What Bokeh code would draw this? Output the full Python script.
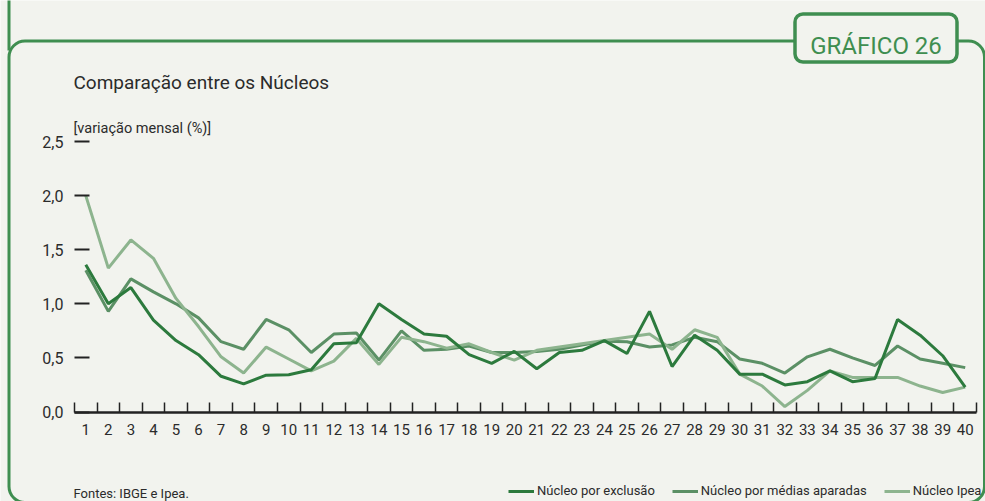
from bokeh.plotting import figure
from bokeh.models import Range1d, FixedTicker, Label, BoxAnnotation, Legend, LegendItem
from bokeh.embed import file_html
from bokeh.resources import INLINE

# ---------------- data ----------------
periodos = list(range(1, 41))
tick_labels = [str(i) for i in periodos]

exclusao = [1.36, 1.00, 1.15, 0.85, 0.66, 0.53, 0.33, 0.26, 0.34, 0.345,
            0.39, 0.63, 0.64, 1.00, 0.855, 0.72, 0.70, 0.53, 0.45, 0.56,
            0.40, 0.55, 0.57, 0.66, 0.54, 0.93, 0.42, 0.71, 0.57, 0.35,
            0.35, 0.25, 0.28, 0.38, 0.28, 0.31, 0.855, 0.71, 0.52, 0.23]

medias_aparadas = [1.31, 0.93, 1.23, 1.11, 1.00, 0.87, 0.65, 0.58, 0.855, 0.76,
                   0.55, 0.72, 0.73, 0.48, 0.75, 0.57, 0.58, 0.61, 0.55, 0.55,
                   0.56, 0.58, 0.62, 0.655, 0.65, 0.60, 0.62, 0.69, 0.65, 0.49,
                   0.45, 0.36, 0.51, 0.58, 0.50, 0.43, 0.61, 0.49, 0.45, 0.41]

ipea = [2.00, 1.33, 1.59, 1.42, 1.05, 0.79, 0.51, 0.36, 0.60, 0.49,
        0.38, 0.47, 0.68, 0.44, 0.69, 0.65, 0.59, 0.63, 0.55, 0.48,
        0.57, 0.60, 0.63, 0.66, 0.69, 0.72, 0.58, 0.76, 0.69, 0.35,
        0.24, 0.05, 0.20, 0.38, 0.32, 0.32, 0.32, 0.24, 0.18, 0.23]

y_ticks = [0.0, 0.5, 1.0, 1.5, 2.0, 2.5]
y_tick_labels = ["0,0", "0,5", "1,0", "1,5", "2,0", "2,5"]
series_names = ["Núcleo por exclusão", "Núcleo por médias aparadas", "Núcleo Ipea"]

title_text = "Comparação entre os Núcleos"
unit_text = "[variação mensal (%)]"
badge_text = "GRÁFICO 26"
source_text = "Fontes: IBGE e Ipea."

# ---------------- style / layout ----------------
W, H = 985, 501
BG = "#f2f3ee"
TXT = "#2b2b2b"
AX = "#222222"
GREEN = "#3f8e50"
C_EXC = "#2c7a3d"
C_MED = "#5b9065"
C_IPEA = "#8db48e"
FONT = "Roboto"

# the plot frame fills the whole canvas; the data area sits at
# x: 74..976 px (0.5..40.5), y: 411.5..141 px (0..2.5)
px_x0, px_x1 = 74.0, 976.0
px_y0, px_y1 = 411.5, 141.0
sx = (px_x1 - px_x0) / 40.0
sy = (px_y0 - px_y1) / 2.5
x_rng = Range1d(0.5 - px_x0 / sx, 40.5 + (W - px_x1) / sx)
y_rng = Range1d(0.0 - (H - px_y0) / sy, 2.5 + px_y1 / sy)

p = figure(width=W, height=H, x_range=x_rng, y_range=y_rng,
           output_backend="svg", toolbar_location=None, title=None,
           min_border=0, min_border_left=0, min_border_right=0,
           min_border_top=0, min_border_bottom=0,
           background_fill_color=BG, border_fill_color=BG,
           outline_line_color=None)

p.xgrid.visible = False
p.ygrid.visible = False

# x axis: labels at integers, small ticks at boundaries (minor ticks)
xa = p.xaxis[0]
xa.fixed_location = 0.0
xa.bounds = (0.5, 40.5)
xa.ticker = FixedTicker(ticks=periodos, minor_ticks=[i + 0.5 for i in range(0, 41)])
xa.major_label_overrides = {v: lbl for v, lbl in zip(periodos, tick_labels)}
xa.major_tick_line_color = None
xa.major_tick_in = 0
xa.major_tick_out = 0
xa.minor_tick_in = 10
xa.minor_tick_out = 0
xa.minor_tick_line_color = AX
xa.minor_tick_line_width = 1.5
xa.axis_line_color = AX
xa.axis_line_width = 2.5
xa.major_label_standoff = 12
xa.major_label_text_font = FONT
xa.major_label_text_font_size = "15px"
xa.major_label_text_color = TXT

ya = p.yaxis[0]
ya.fixed_location = 0.5
ya.bounds = (0.0, 2.5)
ya.ticker = FixedTicker(ticks=y_ticks)
ya.major_label_overrides = {v: lbl for v, lbl in zip(y_ticks, y_tick_labels)}
ya.axis_line_color = None
ya.major_tick_in = 15
ya.major_tick_out = 0
ya.major_tick_line_color = AX
ya.major_tick_line_width = 2
ya.minor_tick_line_color = None
ya.major_label_standoff = 11
ya.major_label_text_font = FONT
ya.major_label_text_font_size = "16px"
ya.major_label_text_color = TXT

# ---------------- series ----------------
r_med = p.line(periodos, medias_aparadas, line_color=C_MED, line_width=3)
r_ipea = p.line(periodos, ipea, line_color=C_IPEA, line_width=3)
r_exc = p.line(periodos, exclusao, line_color=C_EXC, line_width=3)

# ---------------- decorations ----------------
cu = dict(left_units="canvas", right_units="canvas", top_units="canvas", bottom_units="canvas")
frame_box = BoxAnnotation(left=8.5, right=984, top=40.5, bottom=502, fill_alpha=0,
                          line_color=GREEN, line_alpha=1, line_width=3,
                          border_radius=16, **cu)
vert_line = BoxAnnotation(left=8.5, right=8.5, top=-5, bottom=50, fill_alpha=0,
                          line_color=GREEN, line_alpha=1, line_width=3, **cu)
badge_box = BoxAnnotation(left=794.5, right=956.5, top=13.5, bottom=61.5,
                          fill_color=BG, fill_alpha=1, line_color=GREEN, line_alpha=1,
                          line_width=3.5, border_radius=8, **cu)
p.add_layout(frame_box)
p.add_layout(vert_line)
p.add_layout(badge_box)

lu = dict(x_units="canvas", y_units="canvas")
p.add_layout(Label(x=875.5, y=45.5, text=badge_text, text_align="center",
                   text_baseline="alphabetic", text_font=FONT, text_font_size="24px",
                   text_color=GREEN, **lu))
p.add_layout(Label(x=73, y=82, text=title_text, text_baseline="alphabetic",
                   text_font=FONT, text_font_size="19px", text_color=TXT, **lu))
p.add_layout(Label(x=73, y=127.5, text=unit_text, text_baseline="alphabetic",
                   text_font=FONT, text_font_size="14.5px", text_color=TXT, **lu))
p.add_layout(Label(x=73, y=492.5, text=source_text, text_baseline="alphabetic",
                   text_font=FONT, text_font_size="13px", text_color=TXT, **lu))

legend = Legend(items=[LegendItem(label=series_names[0], renderers=[r_exc]),
                       LegendItem(label=series_names[1], renderers=[r_med]),
                       LegendItem(label=series_names[2], renderers=[r_ipea])],
                orientation="horizontal", location=(508, 3),
                glyph_width=26, glyph_height=14, label_height=14,
                label_standoff=3, spacing=17, padding=0, margin=0,
                border_line_color=None, background_fill_alpha=0,
                label_text_font=FONT, label_text_font_size="13px",
                label_text_color=TXT)
p.add_layout(legend)

open("out.html", "w").write(file_html(p, INLINE))
